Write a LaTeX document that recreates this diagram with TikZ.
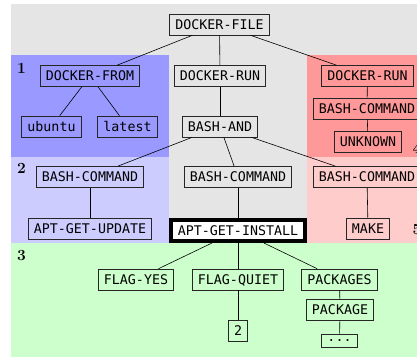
\documentclass[tikz,border=0pt]{standalone}
\usepackage{fontspec}
\newfontfamily\codefont{DejaVu Sans Mono}
\definecolor{bggray}{HTML}{E5E5E5}
\definecolor{regA}{HTML}{9999FF}
\definecolor{regB}{HTML}{CCCCFF}
\definecolor{regC}{HTML}{CCFFCC}
\definecolor{regD}{HTML}{FF9999}
\definecolor{regE}{HTML}{FFCCCC}
\tikzset{
  box/.style={draw=black!85, line width=0.6pt, font=\codefont\fontsize{13.3}{16}\selectfont,
    inner xsep=5.7pt, inner ysep=0pt, minimum height=21pt, text height=9.7pt, text depth=0pt},
  smallbox/.style={box, minimum height=13pt, text height=3pt, text depth=1pt},
  mainbox/.style={box, line width=4pt, draw=black, fill=white, minimum width=134pt, inner xsep=0pt},
  regionlabel/.style={font=\bfseries\fontsize{15.5}{18}\selectfont, inner sep=0pt},
  link/.style={draw=black, line width=0.6pt}
}
\begin{document}
\begin{tikzpicture}[x=1pt,y=-1pt]
\path[use as bounding box] (0,0) rectangle (417,356);
\clip (0,0) rectangle (417,356);
% regions
\fill[bggray] (11,4) rectangle (440,370);
\fill[regA] (11,55) rectangle (169,157);
\fill[regB] (11,157) rectangle (169,243);
\fill[regC] (11,243) rectangle (440,370);
\fill[regD] (307,55) rectangle (440,157);
\fill[regE] (307,157) rectangle (440,243);
% region labels
\node[regionlabel] (l1) at (21.5,68) {1};
\node[regionlabel] (l2) at (21.5,168.5) {2};
\node[regionlabel] (l3) at (21.5,255.5) {3};
\node[regionlabel, anchor=west] (l4) at (412.5,148) {4};
\node[regionlabel, anchor=west] (l5) at (412.5,230) {5};
% nodes
\node[box] (df) at (219.5,24.5) {DOCKER-FILE};
\node[box] (dfrom) at (90,76) {DOCKER-FROM};
\node[box] (drun) at (220,76) {DOCKER-RUN};
\node[box] (drunb) at (367.5,76) {DOCKER-RUN};
\node[box] (ubuntu) at (51.5,126.5) {ubuntu};
\node[box] (latest) at (127.5,126.5) {latest};
\node[box] (band) at (220,126.5) {BASH-AND};
\node[box] (bcd) at (367,108.5) {BASH-COMMAND};
\node[box] (unk) at (368,142) {UNKNOWN};
\node[box] (bca) at (90,177) {BASH-COMMAND};
\node[box] (bcb) at (238,177) {BASH-COMMAND};
\node[box] (bcc) at (367,177) {BASH-COMMAND};
\node[box] (upd) at (90,228.5) {APT-GET-UPDATE};
\node[mainbox] (inst) at (238,230.5) {APT-GET-INSTALL};
\node[box] (make) at (368,228.5) {MAKE};
\node[box] (fyes) at (136,279.5) {FLAG-YES};
\node[box] (fquiet) at (238,279.5) {FLAG-QUIET};
\node[box] (pkgs) at (339.5,279.5) {PACKAGES};
\node[box] (pkg) at (340,310) {PACKAGE};
\node[box] (two) at (238,331) {2};
\node[smallbox] (dots) at (339.5,340.5) {...};
% connectors
\draw[link] (df) -- (dfrom);
\draw[link] (df) -- (drun);
\draw[link] (df) -- (drunb);
\draw[link] (dfrom) -- (ubuntu);
\draw[link] (dfrom) -- (latest);
\draw[link] (drun) -- (band);
\draw[link] (drunb) -- (bcd);
\draw[link] (bcd) -- (unk);
\draw[link] (band) -- (bca);
\draw[link] (band) -- (bcb);
\draw[link] (band) -- (bcc);
\draw[link] (bca) -- (upd);
\draw[link] (bcb) -- (inst);
\draw[link] (bcc) -- (make);
\draw[link] (inst) -- (fyes);
\draw[link] (inst) -- (fquiet);
\draw[link] (inst) -- (pkgs);
\draw[link] (fquiet) -- (two);
\draw[link] (pkgs) -- (pkg);
\draw[link] (pkg) -- (dots);
\end{tikzpicture}
\end{document}
